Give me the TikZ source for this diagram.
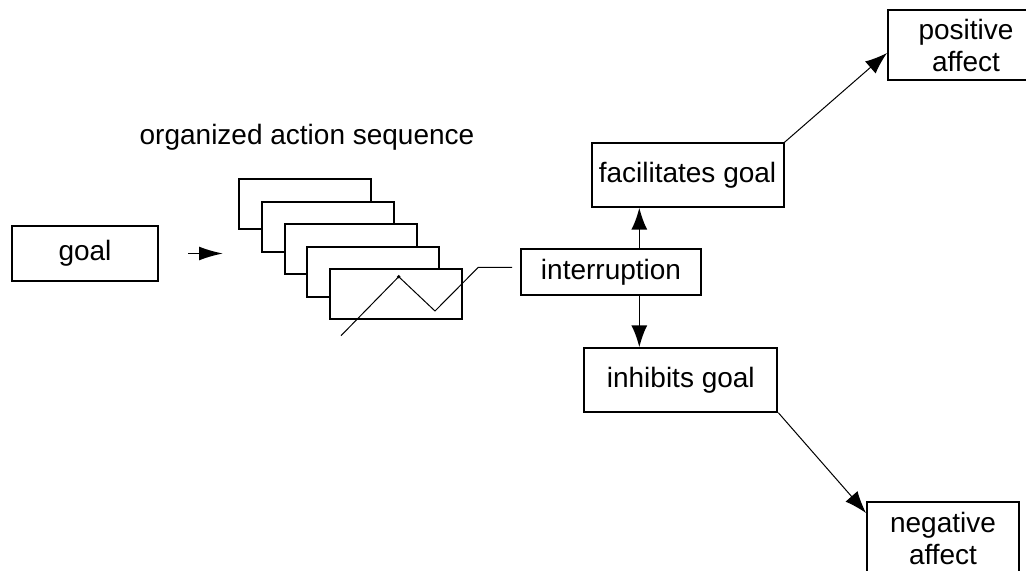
\documentclass[tikz,border=0pt]{standalone}
\usepackage{fontspec}
\setmainfont{Liberation Sans}
\usetikzlibrary{arrows.meta}

\begin{document}
\begin{tikzpicture}[x=0.5pt, y=-0.5pt,
            every node/.style={font=\fontsize{14}{16}\selectfont}]
            \tikzstyle{boxStyle} = [draw=black, fill=white, line width=1pt, inner sep=0pt]
            \tikzstyle{bigArrow} = [draw=black, line width=0.8pt, -{Latex[length=11pt,width=8pt]}]
            \tikzstyle{thinArrow} = [draw=black, line width=0.5pt, -{Latex[length=11pt,width=8pt]}]
            \useasboundingbox (0,0) rectangle (1026,571);
            \clip (0,0) rectangle (1026,571);
            \node[boxStyle, minimum width=73pt, minimum height=27.5pt] (goal) at (85,253.5) {goal};
            \node (title) at (307,137) {organized action sequence};
            % stack of action boxes
            \foreach \k in {0,...,4}
                \node[boxStyle, minimum width=66pt, minimum height=25pt] (act\k) at (305.3+22.6*\k,204.3+22.5*\k) {};
            \node[boxStyle, minimum width=90pt, minimum height=23pt] (interruption) at (611,272) {interruption};
            \node[boxStyle, minimum width=96pt, minimum height=31.7pt] (facilitates) at (687.5,175) {facilitates goal};
            \node[boxStyle, minimum width=96.5pt, minimum height=31.7pt] (inhibits) at (680.8,380) {inhibits goal};
            \node[boxStyle, anchor=west, minimum width=110pt, minimum height=35pt] (positive) at (887,45) {};
            \node[align=center] (positiveText) at (966,45) {positive\\affect};
            \node[boxStyle, minimum width=76pt, minimum height=36pt, align=center] (negative) at (943,538) {negative\\affect};
            % zigzag through the last box
            \coordinate (z1) at (341,335.7);
            \coordinate (z2) at (398.7,276.7);
            \coordinate (z3) at (435,311);
            \coordinate (z4) at (478.3,267.3);
            \draw[line width=0.5pt] (z1) -- (z2) -- (z3) -- (z4) -- ([xshift=-4pt]interruption.west |- z4);
            \fill (z2) circle (1.8);
            \coordinate (upx) at (639.3,0);
            \draw[bigArrow, -{Latex[length=12pt,width=7pt]}] ([xshift=14.5pt]goal.east) -- ([xshift=32pt]goal.east);
            \draw[bigArrow] (upx |- interruption.north) -- (upx |- facilitates.south);
            \draw[bigArrow] (upx |- interruption.south) -- (upx |- inhibits.north);
            \draw[thinArrow] (facilitates.north east) -- ([yshift=-4pt]positive.west);
            \draw[thinArrow] (inhibits.south east) -- ([yshift=-6pt]negative.north west);
        \end{tikzpicture}
\end{document}
